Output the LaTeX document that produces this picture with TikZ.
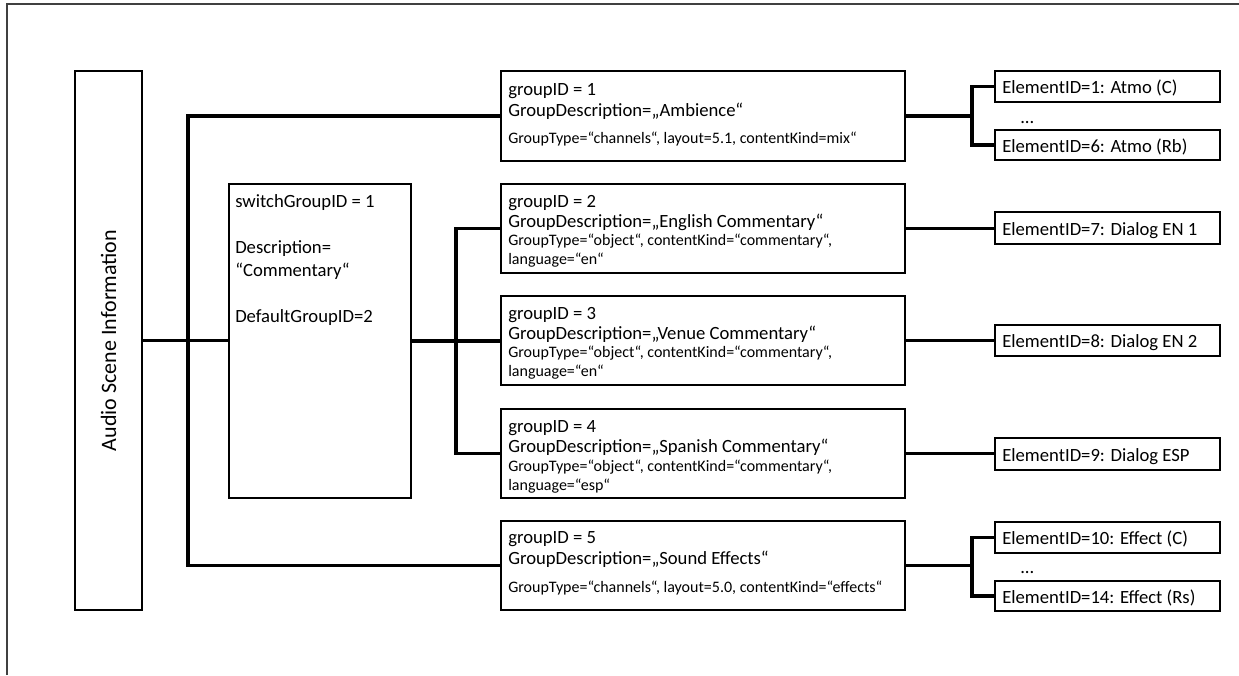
\documentclass[tikz,border=0pt]{standalone}
\usepackage{fontspec}
\setmainfont{Carlito}
\usetikzlibrary{fit}
\begin{document}
\begin{tikzpicture}[x=0.75pt,y=-0.75pt,
  gbox/.style={draw, line width=1.7pt, inner sep=0pt},
  ebox/.style={draw, line width=1.4pt, inner sep=0pt},
  thinbox/.style={draw, line width=1.1pt, inner sep=0pt},
  conn/.style={line width=2.4pt},
  big/.style={font=\fontsize{14}{16}\selectfont, inner sep=0pt, anchor=base west},
  small/.style={font=\fontsize{12}{14}\selectfont, inner sep=0pt, anchor=base west}]
\useasboundingbox (0,0) rectangle (1239,675);
\draw[line width=0.8pt, black!75] (7,675) -- (7,4) -- (1239,4);

% Audio scene information
\node[thinbox, fit={(75,71)(142,610)}] (asi) {};
\node[rotate=90, font=\fontsize{16.5}{18}\selectfont, inner sep=0pt] (asil) at (asi.center) {Audio Scene Information};

% switch group
\node[thinbox, fit={(229,184)(411,498)}] (sw) {};
\node[big] (sw1) at (235,207) {switchGroupID = 1};
\node[big] (sw2) at (235,253) {Description=};
\node[big] (sw3) at (235,276) {“Commentary“};
\node[big] (sw4) at (235,322) {DefaultGroupID=2};

% groups
\node[gbox, fit={(501,71)(905,161)}] (g1) {};
\node[big] (g1a) at (508,95) {groupID = 1};
\node[big] (g1b) at (508,116) {GroupDescription=„Ambience“};
\node[small] (g1c) at (508,143) {GroupType=“channels“, layout=5.1, contentKind=mix“};

\node[gbox, fit={(501,184)(905,273)}] (g2) {};
\node[big] (g2a) at (508,207) {groupID = 2};
\node[big] (g2b) at (508,227) {GroupDescription=„English Commentary“};
\node[small] (g2c) at (508,245) {GroupType=“object“, contentKind=“commentary“,};
\node[small] (g2d) at (508,264) {language=“en“};

\node[gbox, fit={(501,296)(905,385)}] (g3) {};
\node[big] (g3a) at (508,319) {groupID = 3};
\node[big] (g3b) at (508,339) {GroupDescription=„Venue Commentary“};
\node[small] (g3c) at (508,357) {GroupType=“object“, contentKind=“commentary“,};
\node[small] (g3d) at (508,376) {language=“en“};

\node[gbox, fit={(501,409)(905,498)}] (g4) {};
\node[big] (g4a) at (508,432) {groupID = 4};
\node[big] (g4b) at (508,452) {GroupDescription=„Spanish Commentary“};
\node[small] (g4c) at (508,471) {GroupType=“object“, contentKind=“commentary“,};
\node[small] (g4d) at (508,490) {language=“esp“};

\node[gbox, fit={(501,521)(905,610)}] (g5) {};
\node[big] (g5a) at (508,543) {groupID = 5};
\node[big] (g5b) at (508,564) {GroupDescription=„Sound Effects“};
\node[small] (g5c) at (508,592) {GroupType=“channels“, layout=5.0, contentKind=“effects“};

% elements
\node[ebox, fit={(995,71)(1220,102)}] (e1) {};
\node[big] (e1t) at (1002,93.5) {ElementID=1: Atmo (C)};
\node[big] (d1) at (1020,123) {...};
\node[ebox, fit={(995,130)(1220,160)}] (e6) {};
\node[big] (e6t) at (1002,152) {ElementID=6: Atmo (Rb)};

\node[ebox, fit={(995,212)(1220,244)}] (e7) {};
\node[big] (e7t) at (1002,235) {ElementID=7: Dialog EN 1};
\node[ebox, fit={(995,325)(1220,356)}] (e8) {};
\node[big] (e8t) at (1002,347.5) {ElementID=8: Dialog EN 2};
\node[ebox, fit={(995,438)(1220,470)}] (e9) {};
\node[big] (e9t) at (1002,461) {ElementID=9: Dialog ESP};

\node[ebox, fit={(995,522)(1220,553)}] (e10) {};
\node[big] (e10t) at (1002,544.5) {ElementID=10: Effect (C)};
\node[big] (d2) at (1020,573) {...};
\node[ebox, fit={(995,581)(1220,611)}] (e14) {};
\node[big] (e14t) at (1002,603) {ElementID=14: Effect (Rs)};

% connectors
\coordinate (busx) at (188,0);
\coordinate (swx) at (456,0);
\coordinate (jx) at (972,0);
\draw[conn] (asi.east) -- (asi.east -| sw.west);
\draw[conn] (g1.west) -- (g1.west -| busx) -- (g5.west -| busx) -- (g5.west);
\draw[conn] (sw.east) -- (sw.east -| g3.west);
\draw[conn] (g2.west) -- (g2.west -| swx) -- (g4.west -| swx) -- (g4.west);
\draw[conn] (g1.east) -- (g1.east -| jx);
\draw[conn] (e1.west) -- (e1.west -| jx) -- (e6.west -| jx) -- (e6.west);
\draw[conn] (g5.east) -- (g5.east -| jx);
\draw[conn] (e10.west) -- (e10.west -| jx) -- (e14.west -| jx) -- (e14.west);
\draw[conn] (g2.east) -- (g2.east -| e7.west);
\draw[conn] (g3.east) -- (g3.east -| e8.west);
\draw[conn] (g4.east) -- (g4.east -| e9.west);
\end{tikzpicture}
\end{document}
